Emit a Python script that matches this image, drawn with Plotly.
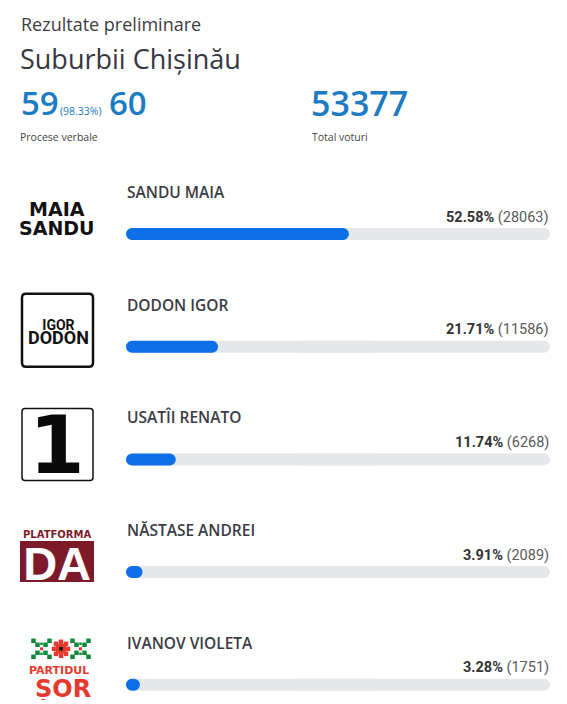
import plotly.graph_objects as go

# ---------------- data ----------------
candidates = ["SANDU MAIA", "DODON IGOR", "USATÎI RENATO", "NĂSTASE ANDREI", "IVANOV VIOLETA"]
percents = [52.58, 21.71, 11.74, 3.91, 3.28]
votes = [28063, 11586, 6268, 2089, 1751]
title_text = "Rezultate preliminare"
region_text = "Suburbii Chișinău"
pv_counted = 59
pv_pct = 98.33
pv_total = 60
pv_label = "Procese verbale"
total_votes = 53377
total_label = "Total voturi"

# ---------------- layout constants ----------------
PAGE_W, PAGE_H = 567, 704
OFF = 8                            # default page body margin
W, H = PAGE_W - OFF, PAGE_H - OFF  # figure size
ROW0, STEP = 234.0, 112.7          # page-pixel centre of first bar, row pitch
TX0, TX1 = 126, 550                # bar track page-pixel extent
BAR_PX = 12

BLUE_TXT = "#1c7cc3"
DARK = "#3b3b43"


def px(x):
    return (x - OFF) / W


def pyp(y):
    return 1 - (y - OFF) / H


def rowc(i):
    return ROW0 + STEP * i


n = len(candidates)
idx = list(range(n))
bw = BAR_PX / STEP

fig = go.Figure()
# grey track, as two overlapping halves so that both ends are rounded
fig.add_bar(y=idx, x=[-60] * n, base=[60] * n, orientation="h", width=bw,
            marker=dict(color="#e5e7ea", cornerradius=6, line=dict(width=0)),
            hoverinfo="skip", showlegend=False)
fig.add_bar(y=idx, x=[60] * n, base=[40] * n, orientation="h", width=bw,
            marker=dict(color="#e5e7ea", cornerradius=6, line=dict(width=0)),
            hoverinfo="skip", showlegend=False)
# blue fill, drawn from value back to 0 so the left end is rounded
fig.add_bar(y=idx, x=[-p for p in percents], base=percents, orientation="h", width=bw,
            marker=dict(color="#0d6fe8", cornerradius=6, line=dict(width=0)),
            hoverinfo="skip", showlegend=False)

annotations = []
shapes = []


def text(x, y, s, size, color, family="Open Sans", weight="normal", xanchor="left", **kw):
    annotations.append(dict(x=px(x), y=pyp(y), xref="paper", yref="paper", text=s,
                            showarrow=False, xanchor=xanchor, yanchor="middle",
                            font=dict(size=size, color=color, family=family, weight=weight), **kw))


# ---------------- header ----------------
text(19, 24, title_text, 18, "#3d3d3d")
text(18, 58, region_text, 27, "#363640")
text(19, 103, str(pv_counted), 33, BLUE_TXT, weight=600)
text(58, 111, f"({pv_pct:.2f}%)", 10.5, BLUE_TXT)
text(107, 103, str(pv_total), 33, BLUE_TXT, weight=600)
text(18, 137, pv_label, 10.5, "#444444")
text(309, 103, str(total_votes), 34, BLUE_TXT, weight=600)
text(310, 137, total_label, 10.5, "#444444")

# ---------------- rows ----------------
for i, (name, p, v) in enumerate(zip(candidates, percents, votes)):
    c = rowc(i)
    text(TX0 - 1, c - 42, name, 15.5, DARK, weight=600)
    text(TX1 + 1, c - 17,
         f"<b>{p:.2f}%</b> <span style='color:#5a5a5a'>({v})</span>",
         14.5, "#333333", family="Roboto", xanchor="right")

# ---------------- logos ----------------
# Maia Sandu
c = rowc(0)
text(57, c - 15,
     "<span style='font-size:19px'>MAIA</span><br><span style='font-size:19px'>SANDU</span>",
     14.6, "#111111", family="DejaVu Sans", weight="bold", xanchor="center")


def rrect(x0, y0, x1, y1, r):
    return (f"M {px(x0 + r)} {pyp(y0)} L {px(x1 - r)} {pyp(y0)} Q {px(x1)} {pyp(y0)} {px(x1)} {pyp(y0 + r)} "
            f"L {px(x1)} {pyp(y1 - r)} Q {px(x1)} {pyp(y1)} {px(x1 - r)} {pyp(y1)} "
            f"L {px(x0 + r)} {pyp(y1)} Q {px(x0)} {pyp(y1)} {px(x0)} {pyp(y1 - r)} "
            f"L {px(x0)} {pyp(y0 + r)} Q {px(x0)} {pyp(y0)} {px(x0 + r)} {pyp(y0)} Z")


# Igor Dodon
c = rowc(1)
shapes.append(dict(type="path", xref="paper", yref="paper", path=rrect(22, c - 53, 93, c + 20, 4),
                   line=dict(color="#111111", width=2.5), fillcolor="white"))
text(58, c - 14,
     "<span style='font-size:14px'>IGOR</span><br><span style='font-size:18px'>DODON</span>",
     11, "#111111", family="Roboto", weight="bold", xanchor="center")

# Renato Usatii
c = rowc(2)
shapes.append(dict(type="path", xref="paper", yref="paper", path=rrect(22, c - 51, 93, c + 21, 3),
                   line=dict(color="#111111", width=1.5), fillcolor="white"))
text(57, c - 14, "1", 80, "#0a0a0a", family="DejaVu Sans", weight="bold", xanchor="center")

# Platforma DA
c = rowc(3)
MAROON = "#7d1a2a"
shapes.append(dict(type="rect", xref="paper", yref="paper", x0=px(20), x1=px(94),
                   y0=pyp(c - 31), y1=pyp(c + 10), fillcolor=MAROON, line=dict(width=0)))
text(57, c - 13,
     f"<span style='font-size:10px;color:{MAROON}'>PLATFORMA</span><br>"
     "<span style='font-size:47px;font-family:Liberation Sans'>DA</span>",
     32.3, "white", family="DejaVu Sans", weight="bold", xanchor="center")

# Partidul Sor
c = rowc(4)
RED = "#e63a2e"
GREEN = "#0e8a3a"
oy = c - 36


def sq(x, y, s, col):
    shapes.append(dict(type="rect", xref="paper", yref="paper", x0=px(x - s / 2), x1=px(x + s / 2),
                       y0=pyp(y - s / 2), y1=pyp(y + s / 2), fillcolor=col, line=dict(width=0)))


for cx in (41.5, 80.5):
    for d in (-8, -4, 4, 8):
        sq(cx + d, oy + d, 4.5, GREEN)
        sq(cx + d, oy - d, 4.5, GREEN)
    sq(cx, oy - 5, 2.5, GREEN)
    sq(cx, oy + 5, 2.5, GREEN)
    sq(cx, oy, 3, RED)
# central flower
for dx, dy in ((0, -7), (0, 7), (-7, 0), (7, 0), (-5, -5), (5, -5), (-5, 5), (5, 5)):
    sq(61 + dx, oy + dy, 4.5, RED)
sq(61, oy, 10, RED)
sq(61, oy, 3.5, "#111111")
text(59, c - 15, "PARTIDUL", 11, RED, family="DejaVu Sans", weight="bold", xanchor="center",
     height=10)
text(63, c + 4, "ȘOR", 24, RED, family="DejaVu Sans", weight="bold", xanchor="center",
     height=22)

# right border
shapes.append(dict(type="line", xref="paper", yref="paper", x0=px(566), x1=px(566), y0=0, y1=1,
                   line=dict(color="#e3e3e3", width=1)))

fig.update_layout(
    width=W, height=H, margin=dict(l=0, r=0, t=0, b=0),
    paper_bgcolor="white", plot_bgcolor="white",
    barmode="overlay", showlegend=False,
    xaxis=dict(domain=[px(TX0), px(TX1)], range=[0, 100], visible=False, fixedrange=True),
    yaxis=dict(domain=[0, 1], range=[(PAGE_H - ROW0) / STEP, (OFF - ROW0) / STEP],
               visible=False, fixedrange=True),
    annotations=annotations, shapes=shapes,
)

fig.write_html("out.html")
